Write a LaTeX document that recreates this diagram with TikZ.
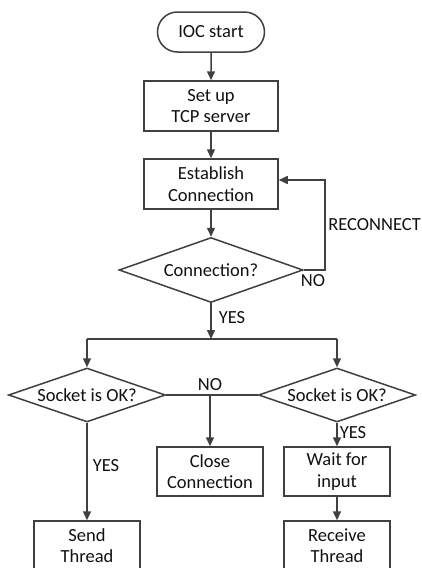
\documentclass[tikz,border=0pt]{standalone}
\usepackage{fontspec}
\setmainfont{Carlito}
\usetikzlibrary{shapes.geometric,shapes.misc,arrows.meta}
\definecolor{linegray}{HTML}{404040}
\definecolor{textblack}{HTML}{111111}
\begin{document}
\begin{tikzpicture}[x=1pt,y=-1pt,
  every node/.style={font=\fontsize{18.5}{21.5}\selectfont,text=textblack},
  line/.style={draw=linegray,line width=1.5pt},
  arr/.style={line,-{Triangle[length=9pt,width=8pt]}},
  procbox/.style={rectangle,draw=linegray,line width=1.5pt,fill=white,
    minimum width=106pt,minimum height=49pt,inner sep=0pt,align=center},
  widebox/.style={procbox,minimum width=134pt,minimum height=50pt},
  term/.style={rounded rectangle,draw=linegray,line width=1.5pt,fill=white,
    minimum width=107pt,minimum height=40pt,inner sep=0pt},
  decision/.style={diamond,draw=linegray,line width=1.5pt,fill=white,inner sep=0pt},
  lbl/.style={inner sep=0pt}]
\useasboundingbox (0,0) rectangle (422,568);
\clip (0,0) rectangle (422,568);

% main column
\node[term] (start) at (211,32) {IOC start};
\node[widebox] (setup) at (211,106) {Set up\\TCP server};
\node[widebox] (estab) at (211,184) {Establish\\Connection};
\node[decision,minimum width=184pt,minimum height=65pt,aspect=2.83] (conn) at (211,270) {Connection?};

% branches
\node[decision,minimum width=157pt,minimum height=54pt,aspect=2.9] (sockL) at (87,395) {Socket is OK?};
\node[decision,minimum width=157pt,minimum height=54pt,aspect=2.9] (sockR) at (337,395) {Socket is OK?};
\node[procbox] (close) at (210,471.5) {Close\\Connection};
\node[procbox] (wait) at (337,471.5) {Wait for\\input};
\node[procbox] (send) at (87,545.5) {Send\\Thread};
\node[procbox] (recv) at (337,545.5) {Receive\\Thread};

% helper points
\coordinate (rc) at (325,180);
\coordinate (split) at (211,339);
\coordinate (noj) at (210,395);

% connectors
\draw[arr] (start) -- (setup);
\draw[arr] (setup) -- (estab);
\draw[arr] (estab) -- (conn);
\draw[arr] (conn.east) -| (rc) -- (estab.east |- rc);
\draw[arr] (conn.south) -- (split);
\draw[line] (sockL.north |- split) -- (sockR.north |- split);
\draw[arr] (sockL.north |- split) -- (sockL.north);
\draw[arr] (sockR.north |- split) -- (sockR.north);
\draw[line] (sockL.east) -- (sockR.west);
\draw[arr] (noj) -- (close.north);
\draw[arr] (sockL.south) -- (send.north);
\draw[arr] (sockR.south) -- (wait.north);
\draw[arr] (wait) -- (recv);

% labels
\node[lbl,anchor=east] (lrec) at (421,225) {RECONNECT};
\node[lbl] (lno1) at (313,281) {NO};
\node[lbl] (lyes1) at (232,318) {YES};
\node[lbl] (lno2) at (210,385) {NO};
\node[lbl] (lyes2) at (106,466) {YES};
\node[lbl] (lyes3) at (353,433) {YES};
\end{tikzpicture}
\end{document}
